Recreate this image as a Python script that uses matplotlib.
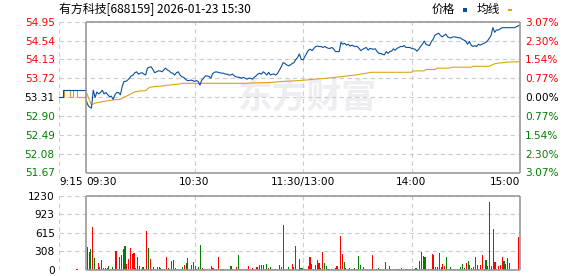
# 有方科技 分时图 (价格 + 均线 + 成交量)
import numpy as np
import matplotlib
matplotlib.use('Agg')
import matplotlib.pyplot as plt
from matplotlib.patches import Rectangle

CJK = ['Noto Sans CJK SC', 'DejaVu Sans']
plt.rcParams['font.family'] = 'DejaVu Sans'

title = '有方科技[688159] 2026-01-23 15:30'
prev_close = 53.31
price_ticks = [51.67, 52.08, 52.49, 52.90, 53.31, 53.72, 54.13, 54.54, 54.95]
price_labels = ['51.67', '52.08', '52.49', '52.90', '53.31', '53.72', '54.13', '54.54', '54.95']
pct_labels = ['3.07%', '2.30%', '1.54%', '0.77%', '0.00%', '0.77%', '1.54%', '2.30%', '3.07%']
vol_ticks = [0, 308, 615, 923, 1230]
time_ticks = [-15, 0, 60, 120, 180, 240]
time_labels = ['9:15', '09:30', '10:30', '11:30/13:00', '14:00', '15:00']

# 集合竞价 9:15-9:30 (分钟, 相对 9:30)
pre_t = [-15, -13, 0]
pre_price = [53.32, 53.46, 53.46]
pre_avg_t = [-15, -12, -9, -7, -5, 0]
pre_avg = [53.32, 53.46, 53.32, 53.46, 53.32, 53.32]
auction_t = [-5]
auction_vol = [20]

# 连续交易 每分钟价格 (0 = 9:30, 240 = 15:00)
price = [
    53.25, 53.14, 53.09, 53.07, 53.46, 53.30, 53.42, 53.38, 53.41, 53.46,
    53.38, 53.41, 53.36, 53.32, 53.33, 53.26, 53.36, 53.41, 53.41, 53.36,
    53.54, 53.65, 53.65, 53.68, 53.72, 53.77, 53.79, 53.84, 53.86, 53.81,
    53.83, 53.84, 53.81, 53.79, 53.94, 53.96, 53.97, 53.91, 53.84, 53.86,
    53.88, 53.88, 53.86, 53.90, 53.94, 53.90, 53.88, 53.84, 53.83, 53.79,
    53.84, 53.86, 53.79, 53.75, 53.74, 53.70, 53.67, 53.67, 53.68, 53.67,
    53.65, 53.67, 53.65, 53.57, 53.68, 53.72, 53.77, 53.77, 53.76, 53.72,
    53.82, 53.85, 53.86, 53.85, 53.84, 53.83, 53.83, 53.81, 53.81, 53.79,
    53.79, 53.81, 53.77, 53.75, 53.74, 53.74, 53.72, 53.74, 53.72, 53.70,
    53.72, 53.72, 53.70, 53.74, 53.77, 53.81, 53.83, 53.81, 53.86, 53.83,
    53.79, 53.85, 53.79, 53.81, 53.81, 53.79, 53.83, 53.90, 53.97, 54.06,
    54.04, 54.01, 53.99, 54.01, 54.04, 54.06, 54.13, 54.17, 54.25, 54.13,
    54.12, 54.19, 54.26, 54.33, 54.35, 54.32, 54.37, 54.41, 54.42, 54.41,
    54.41, 54.39, 54.41, 54.39, 54.37, 54.37, 54.39, 54.35, 54.30, 54.30,
    54.30, 54.50, 54.46, 54.48, 54.44, 54.46, 54.42, 54.44, 54.42, 54.41,
    54.41, 54.37, 54.32, 54.35, 54.37, 54.39, 54.33, 54.37, 54.36, 54.35,
    54.36, 54.30, 54.26, 54.26, 54.24, 54.23, 54.30, 54.26, 54.30, 54.31,
    54.36, 54.33, 54.37, 54.39, 54.41, 54.41, 54.43, 54.39, 54.39, 54.39,
    54.37, 54.36, 54.35, 54.31, 54.35, 54.41, 54.46, 54.53, 54.46, 54.44,
    54.43, 54.52, 54.57, 54.66, 54.68, 54.70, 54.65, 54.62, 54.65, 54.68,
    54.62, 54.60, 54.60, 54.62, 54.62, 54.61, 54.60, 54.60, 54.57, 54.55,
    54.53, 54.46, 54.52, 54.44, 54.41, 54.43, 54.41, 54.46, 54.44, 54.46,
    54.48, 54.50, 54.53, 54.59, 54.65, 54.82, 54.72, 54.77, 54.77, 54.79,
    54.82, 54.82, 54.82, 54.82, 54.82, 54.82, 54.82, 54.82, 54.84, 54.86,
    54.88,
]

# 均线 (分钟, 价格)
avg_t = [0, 3, 5, 9, 12, 15, 19, 21, 24, 26, 29, 33, 35, 38, 42, 45, 51, 53, 66, 88,
         93, 103, 108, 114, 121, 127, 133, 141, 149, 155, 158, 180, 181, 187, 188, 193,
         194, 201, 202, 213, 214, 223, 225, 227, 233, 240]
avg_v = [53.43, 53.14, 53.18, 53.21, 53.23, 53.25, 53.26, 53.31, 53.36, 53.41, 53.44,
         53.45, 53.52, 53.54, 53.55, 53.57, 53.59, 53.61, 53.61, 53.61, 53.62, 53.63,
         53.65, 53.66, 53.68, 53.70, 53.72, 53.755, 53.79, 53.83, 53.85, 53.85, 53.88,
         53.88, 53.91, 53.91, 53.94, 53.94, 53.96, 53.96, 53.98, 53.98, 54.02, 54.045,
         54.07, 54.08]

# 每分钟成交量 (手) 与颜色
vol = [
    382, 300, 350, 714, 200, 20, 116, 50, 166, 25,
    30, 25, 66, 20, 50, 20, 315, 20, 216, 250,
    350, 400, 100, 183, 365, 265, 282, 30, 216, 66,
    20, 50, 20, 647, 365, 183, 20, 50, 20, 50,
    50, 30, 20, 10, 216, 30, 20, 150, 166, 30,
    20, 20, 20, 50, 80, 116, 200, 20, 80, 133,
    66, 20, 50, 415, 30, 20, 20, 20, 20, 66,
    30, 20, 20, 216, 20, 20, 20, 20, 20, 20,
    66, 20, 10, 50, 250, 20, 20, 10, 20, 20,
    66, 20, 30, 10, 50, 50, 80, 80, 80, 20,
    100, 30, 50, 10, 20, 20, 20, 80, 50, 747,
    20, 20, 50, 20, 100, 50, 400, 20, 183, 30,
    30, 20, 20, 66, 216, 100, 20, 80, 166, 116,
    30, 300, 116, 66, 20, 20, 20, 20, 30, 66,
    20, 565, 265, 133, 30, 20, 30, 20, 20, 30,
    20, 233, 80, 20, 50, 20, 20, 20, 10, 250,
    20, 20, 30, 20, 20, 20, 133, 10, 66, 20,
    20, 20, 20, 20, 20, 30, 20, 20, 20, 20,
    20, 20, 20, 30, 20, 150, 300, 233, 216, 20,
    20, 20, 265, 250, 50, 50, 283, 50, 100, 66,
    216, 20, 50, 20, 20, 20, 20, 20, 50, 100,
    30, 116, 150, 80, 30, 50, 216, 80, 20, 80,
    250, 20, 166, 66, 1130, 66, 680, 133, 20, 66,
    80, 216, 150, 100, 200, 116, 0, 0, 0, 0,
    548,
]
vol_side = (
    'gggrgrrrrg' 'grgrggrrgr' 'rgrrrrrrgr' 'ggrrgrggrr' 'rgrrrggggr'
    'ggggrggrrg' 'rgggrrrgrg' 'rrgrgggggg'
    'grrrggrggr' 'rgrrrrrrrg' 'grgggggrrr' 'gggrrrrrrg' 'grrrrgggrr'
    'grgggggggr' 'rrrgrggrgg' 'rgggrggrrr'
    'gggrgrgrrg' 'rrgrrrgggg' 'ggggrrrrgr' 'rrrrrrgrrr' 'gggrrrgggg'
    'grggrrrggr' 'rrgrrrgrgr' 'rrgrrrrrrr' 'r'
)

RED, GREEN, BLACK = '#ff0000', '#008000', '#000000'
GRID = '#cccccc'
FRAME = '#999999'
BLUE_LINE = '#0a4f9e'
AVG_LINE = '#dca31c'

W, H = 578, 276
fig = plt.figure(figsize=(W / 100, H / 100), dpi=100)
left, right = 58.9, 520
ax = fig.add_axes([left / W, 1 - 172.5 / H, (right - left) / W, (172.5 - 21.7) / H])
vax = fig.add_axes([left / W, 1 - 270 / H, (right - left) / W, 74 / H])

x0, x1 = time_ticks[0], time_ticks[-1]
lo, hi = price_ticks[0], price_ticks[-1]
vhi = vol_ticks[-1]


def frame(a, ylo, yhi, yt):
    a.set_xlim(x0, x1)
    a.set_ylim(ylo, yhi)
    for s in a.spines.values():
        s.set_visible(False)
    a.hlines(yt, x0, x1, colors=GRID, linestyles=(0, (4, 3)), lw=0.8, zorder=1)
    a.vlines([x0, 60, 120, 180], ylo, yhi, colors=GRID, linestyles=(0, (4, 3)), lw=0.8, zorder=1)
    a.hlines([ylo, yhi], 0, x1, colors=FRAME, lw=1.2, zorder=5, clip_on=False)
    a.vlines([0, x1], ylo, yhi, colors=FRAME, lw=1.2, zorder=5, clip_on=False)
    a.tick_params(length=0)


frame(ax, lo, hi, price_ticks)
frame(vax, 0, vhi, vol_ticks)

# 水印
ax.text(0.54, 0.5, '东方财富', transform=ax.transAxes, ha='center', va='center',
        fontsize=25, fontweight='bold', color='#eeeef2', family=CJK, zorder=0)

# 价格与均线
minutes = np.arange(len(price))
ax.plot(pre_avg_t, pre_avg, color=AVG_LINE, lw=0.8, drawstyle='steps-post', zorder=3)
ax.plot(pre_t, pre_price, color=BLUE_LINE, lw=0.8, drawstyle='steps-post', zorder=4)
ax.plot(avg_t, avg_v, color=AVG_LINE, lw=0.8, zorder=3)
ax.plot(minutes, price, color=BLUE_LINE, lw=0.8, zorder=4)

# 成交量
bar_x = np.linspace(0.7, 239.1, len(vol))
bar_c = [RED if s == 'r' else GREEN for s in vol_side]
vax.bar(bar_x, vol, width=0.6, color=bar_c, linewidth=0, zorder=3, antialiased=False)
vax.bar(auction_t, auction_vol, width=0.6, color=RED, linewidth=0, zorder=3, antialiased=False)


def side_color(v):
    if abs(v - prev_close) < 1e-6:
        return BLACK
    return RED if v > prev_close else GREEN


ax.set_yticks(price_ticks)
ax.set_yticklabels(price_labels, fontsize=7.6)
ax.tick_params(axis='y', pad=3)
for lab, v in zip(ax.get_yticklabels(), price_ticks):
    lab.set_color(side_color(v))

ax2 = ax.twinx()
ax2.set_ylim(lo, hi)
for s in ax2.spines.values():
    s.set_visible(False)
ax2.set_yticks(price_ticks)
ax2.set_yticklabels(pct_labels, fontsize=7.6)
ax2.tick_params(axis='y', length=0, pad=3.5)
for lab, v in zip(ax2.get_yticklabels(), price_ticks):
    lab.set_color(side_color(v))

ax.set_xticks(time_ticks)
ax.set_xticklabels(time_labels, fontsize=7.6)
ax.tick_params(axis='x', pad=3)
xl = ax.get_xticklabels()
xl[0].set_ha('left')
xl[1].set_ha('left')
xl[-1].set_ha('right')

vax.set_xticks([])
vax.set_yticks(vol_ticks)
vax.set_yticklabels([str(v) for v in vol_ticks], fontsize=7.6)
vax.tick_params(axis='y', pad=3)

# 标题与图例
fig.text(59 / W, 1 - 9 / H, title, fontsize=8.6, family=CJK, va='center', ha='left')
fig.text(432 / W, 1 - 9 / H, '价格', fontsize=8.4, family=CJK, va='center', ha='left')
fig.text(477 / W, 1 - 9 / H, '均线', fontsize=8.4, family=CJK, va='center', ha='left')
fig.patches.append(Rectangle((463 / W, 1 - 12 / H), 4 / W, 4 / H, transform=fig.transFigure,
                             color=BLUE_LINE, lw=0))
fig.patches.append(Rectangle((508 / W, 1 - 11 / H), 4 / W, 2 / H, transform=fig.transFigure,
                             color=AVG_LINE, lw=0))

fig.savefig('out.png', dpi=100)
